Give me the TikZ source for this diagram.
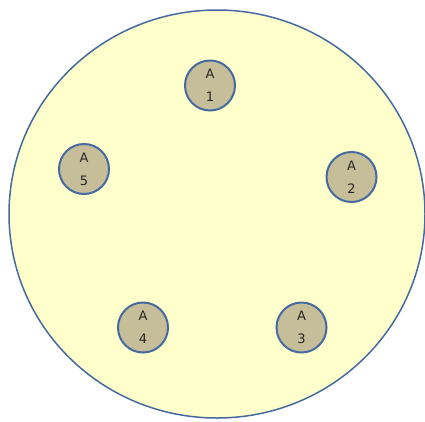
\documentclass[tikz,border=0pt]{standalone}
\usepackage{fontspec}
\setmainfont{DejaVu Sans}
\usetikzlibrary{shapes.geometric}
\definecolor{bigfill}{RGB}{255,255,204}
\definecolor{smallfill}{RGB}{198,190,153}
\definecolor{rim}{RGB}{68,106,160}
\begin{document}
\begin{tikzpicture}[x=1pt,y=-1pt,
  agent/.style={circle,draw=rim,fill=smallfill,line width=2pt,minimum size=50pt,inner sep=0pt,
    align=center,font=\fontsize{13}{23}\selectfont,text=black!85}]
\useasboundingbox (0,0) rectangle (425,421);
\node[ellipse,draw=rim,fill=bigfill,line width=1.5pt,minimum width=416pt,minimum height=408pt,inner sep=0pt] (world) at (217,214) {};
\node[agent] (a1) at (210,85.5) {A\\1};
\node[agent] (a2) at (351.5,177) {A\\2};
\node[agent] (a3) at (301.5,327.5) {A\\3};
\node[agent] (a4) at (143,327.5) {A\\4};
\node[agent] (a5) at (84,169) {A\\5};
\end{tikzpicture}
\end{document}
